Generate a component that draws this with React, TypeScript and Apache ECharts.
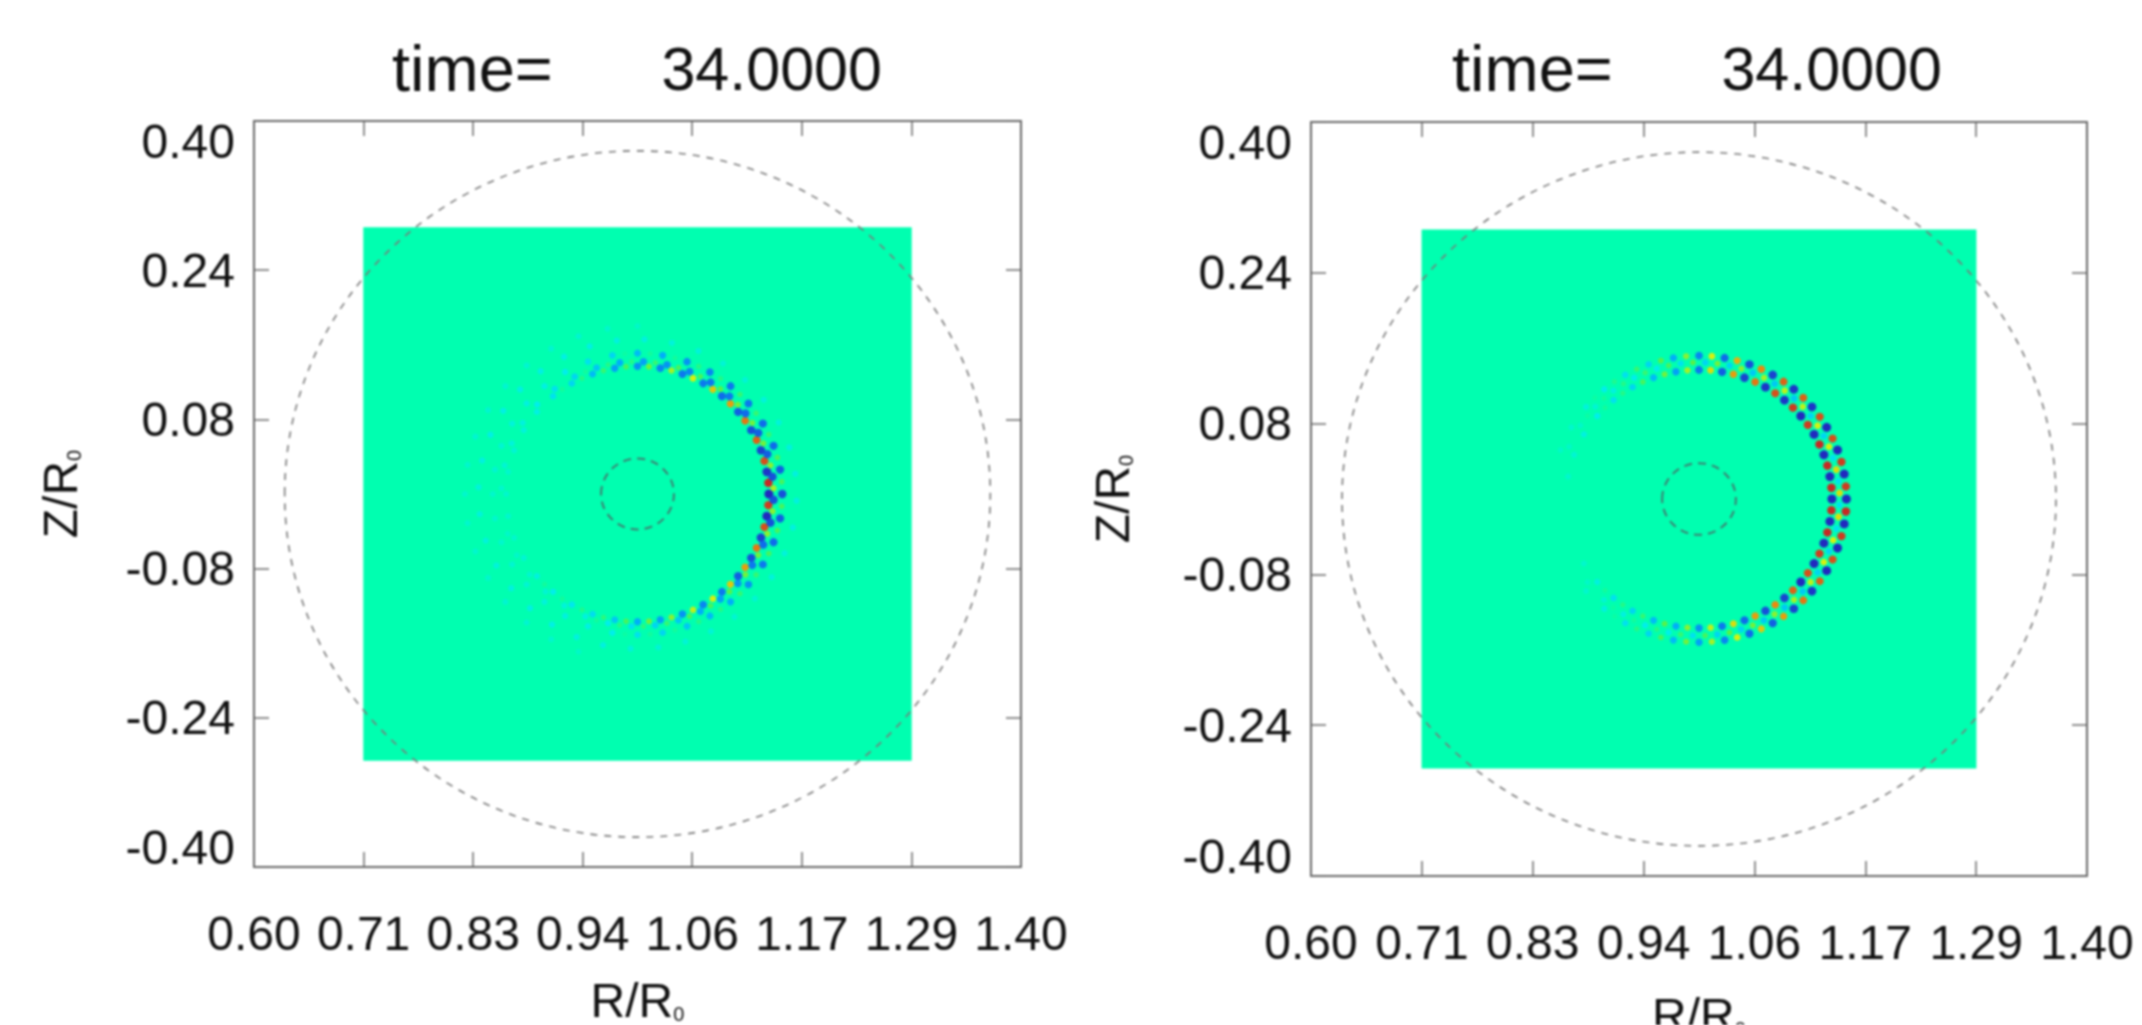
import React, { useEffect, useRef } from "react";
import * as echarts from "echarts";

const FONT = "'Liberation Sans', Arial, sans-serif";
const titleLabel = "time=";
const titleValue = "34.0000";
const xTickValues = [0.6, 0.7143, 0.8286, 0.9429, 1.0571, 1.1714, 1.2857, 1.4];
const yTickValues = [-0.4, -0.24, -0.08, 0.08, 0.24, 0.4];
const fieldBox = [[0.714, -0.286, 1.286, 0.286]];
const fluxCircles = [[1.0, 0, 0.368], [1.0, 0, 0.038]];

// angle (deg) of each sample round the ring
const ringAngles = [
  -175, -170, -165, -160, -155, -150, -145, -140, -135, -130, -125, -120,
  -115, -110, -105, -100, -95, -90, -85, -80, -75, -70, -65, -60,
  -55, -50, -45, -40, -35, -30, -25, -20, -15, -10, -5, 0,
  5, 10, 15, 20, 25, 30, 35, 40, 45, 50, 55, 60,
  65, 70, 75, 80, 85, 90, 95, 100, 105, 110, 115, 120,
  125, 130, 135, 140, 145, 150, 155, 160, 165, 170, 175, 180,
];

const leftA = [
  0, -.12, 0, -.12, 0, -.15, 0, -.2, .05, -.25, .05, -.28,
  .08, -.32, .12, -.4, .2, -.5, .3, -.55, .35, -.6, .45, -.65,
  .5, -.7, .6, -.8, .7, -.85, .8, -.9, .9, -1, .95, -1,
  1, -.95, .9, -.9, .85, -.85, .8, -.8, .7, -.75, .6, -.7,
  .5, -.7, .4, -.65, .3, -.6, .2, -.55, .15, -.45, .1, -.35,
  .05, -.3, 0, -.22, 0, -.18, 0, -.15, 0, -.12, 0, -.12,
];
const leftB = [
  0, 0, -.1, 0, -.1, 0, -.12, 0, -.15, 0, -.18, 0,
  -.2, .05, -.25, .1, -.3, .12, -.35, .15, -.4, .2, -.5, .2,
  -.55, .25, -.6, .3, -.7, .3, -.75, .35, -.85, .35, -.85, .4,
  -.85, .35, -.8, .3, -.8, .3, -.75, .3, -.7, .25, -.7, .2,
  -.65, .2, -.6, .15, -.55, .1, -.5, .1, -.4, .05, -.35, 0,
  -.3, 0, -.25, 0, -.2, 0, -.18, 0, -.15, 0, -.12, 0,
];
const leftC = [
  0, -.12, 0, -.12, 0, -.14, 0, -.15, 0, -.18, 0, -.2,
  0, -.22, 0, -.25, .03, -.3, .05, -.35, .05, -.4, .1, -.45,
  .1, -.5, .15, -.6, .15, -.7, .2, -.75, .2, -.8, .2, -.85,
  .2, -.8, .2, -.75, .15, -.75, .15, -.7, .15, -.7, .1, -.65,
  .1, -.6, .05, -.5, .05, -.45, .03, -.35, 0, -.3, 0, -.25,
  0, -.22, 0, -.2, 0, -.18, 0, -.15, 0, -.14, 0, -.12,
];
const leftD = [
  -.18, 0, -.18, 0, -.18, 0, -.2, 0, -.22, 0, -.22, 0,
  -.2, 0, -.2, 0, -.18, 0, -.16, 0, -.16, 0, -.16, 0,
  -.15, 0, -.15, 0, -.18, 0, -.18, 0, -.2, 0, -.2, 0,
  -.2, 0, -.2, 0, -.18, 0, -.18, 0, -.16, 0, -.16, 0,
  -.18, 0, -.18, 0, -.2, 0, -.2, 0, -.22, 0, -.22, 0,
  -.22, 0, -.22, 0, -.22, 0, -.22, 0, -.2, 0, -.18, 0,
];
const leftE = [
  0, -.12, 0, -.12, 0, -.12, 0, -.14, 0, -.14, 0, -.12,
  0, -.1, 0, 0, 0, 0, 0, 0, 0, 0, 0, 0,
  0, 0, 0, 0, 0, 0, 0, 0, 0, 0, 0, 0,
  0, 0, 0, 0, 0, 0, 0, 0, 0, 0, 0, 0,
  0, 0, 0, 0, 0, -.1, 0, -.12, 0, -.14, 0, -.14,
  0, -.14, 0, -.14, 0, -.14, 0, -.14, 0, -.12, 0, -.12,
];
const rightA = [
  0, 0, 0, 0, 0, -.12, 0, -.2, .05, -.3, .1, -.35,
  .15, -.45, .25, -.5, .35, -.6, .45, -.7, .55, -.75, .7, -.85,
  .75, -.9, .85, -1, .9, -1, .95, -1, 1, -1, 1, -1,
  1, -1, 1, -1, 1, -1, .95, -1, .95, -.95, .9, -.95,
  .8, -.9, .7, -.8, .55, -.7, .4, -.55, .3, -.45, .2, -.35,
  .1, -.3, .05, -.25, 0, -.2, 0, -.15, 0, -.12, 0, 0,
];
const rightB = [
  0, 0, 0, 0, 0, 0, -.1, 0, -.15, .03, -.2, .05,
  -.25, .1, -.25, .15, -.3, .2, -.35, .25, -.35, .3, -.4, .35,
  -.4, .4, -.4, .45, -.35, .5, -.35, .5, -.3, .55, -.3, .55,
  -.3, .55, -.3, .5, -.35, .5, -.35, .45, -.4, .45, -.4, .4,
  -.4, .35, -.35, .3, -.35, .25, -.3, .2, -.25, .15, -.25, .1,
  -.2, .05, -.15, .03, -.1, 0, -.1, 0, 0, 0, 0, 0,
];
const rightC = [
  0, 0, 0, 0, 0, 0, 0, -.12, 0, -.2, .03, -.3,
  .1, -.35, .2, -.45, .3, -.55, .4, -.65, .5, -.75, .6, -.8,
  .7, -.9, .8, -.95, .85, -1, .9, -1, .95, -1, 1, -1,
  .95, -1, .95, -1, .9, -1, .9, -.95, .85, -.95, .85, -.9,
  .75, -.85, .65, -.75, .5, -.65, .35, -.5, .25, -.35, .15, -.3,
  .08, -.25, .03, -.18, 0, -.12, 0, -.1, 0, 0, 0, 0,
];

const leftTracks: [number, number, number[]][] = [
  [0.137, 0, leftA],
  [0.142, 2.5, leftB],
  [0.151, 0, leftC],
  [0.166, 2.5, leftD],
  [0.18, 0, leftE],
];
const rightTracks: [number, number, number[]][] = [
  [0.137, 0, rightA],
  [0.145, 2.5, rightB],
  [0.152, 0, rightC],
];

const COLORMAP = ["#2418c0", "#1060f0", "#00a8ff", "#00eef0", "#00ffb0", "#60f040", "#e8f000", "#ff8000", "#d81818"];
const GREEN = "#00ffb0";
const AXIS = "#6a6a6a";

function ringPoints(tracks: [number, number, number[]][]) {
  const pts: number[][] = [];
  tracks.forEach(([r, off, vals]) => {
    vals.forEach((v, i) => {
      if (v === 0) return;
      const a = ((ringAngles[i] + off) * Math.PI) / 180;
      pts.push([1 + r * Math.cos(a), r * Math.sin(a), v]);
    });
  });
  return pts;
}

function renderBox(_: any, api: any) {
  const a = api.coord([api.value(0), api.value(1)]);
  const b = api.coord([api.value(2), api.value(3)]);
  return {
    type: "rect",
    shape: { x: a[0], y: b[1], width: b[0] - a[0], height: a[1] - b[1] },
    style: { fill: GREEN, stroke: null },
  };
}

function renderCircle(_: any, api: any) {
  const c = api.coord([api.value(0), api.value(1)]);
  const e = api.coord([api.value(0) + api.value(2), api.value(1) + api.value(2)]);
  const inner = api.value(2) < 0.1;
  return {
    type: "ellipse",
    shape: { cx: c[0], cy: c[1], rx: e[0] - c[0], ry: c[1] - e[1] },
    style: {
      fill: "none",
      stroke: inner ? "#3f7f72" : "#7a7a7a",
      lineWidth: inner ? 2 : 1.6,
      lineDash: inner ? [8, 6] : [7, 7],
    },
  };
}

const tickFmt = (v: number) => v.toFixed(2);
const nameStyle = {
  rich: {
    a: { fontSize: 48, color: "#111", fontFamily: FONT },
    b: { fontSize: 20, color: "#111", fontFamily: FONT, verticalAlign: "bottom", padding: [22, 0, 0, 0] },
  },
};

function xAxes(gridIndex: number, nameGap: number) {
  const base = {
    type: "value", gridIndex, min: 0.6, max: 1.4, splitLine: { show: false },
    axisLine: { show: true, onZero: false, lineStyle: { color: AXIS, width: 2 } },
    axisTick: { show: true, inside: true, length: 15, customValues: xTickValues, lineStyle: { color: AXIS, width: 1.5 } },
  };
  return [
    {
      ...base, position: "bottom",
      axisLabel: { show: true, customValues: xTickValues, formatter: tickFmt, margin: 46, fontSize: 48, lineHeight: 40, color: "#111", fontFamily: FONT },
      name: "{a|R/R}{b|0}", nameLocation: "middle", nameGap,
      nameTextStyle: nameStyle,
    },
    { ...base, position: "top", axisLabel: { show: false } },
  ];
}
function yAxes(gridIndex: number, nameGap: number) {
  const base = {
    type: "value", gridIndex, min: -0.4, max: 0.4, splitLine: { show: false },
    axisLine: { show: true, onZero: false, lineStyle: { color: AXIS, width: 2 } },
    axisTick: { show: true, inside: true, length: 15, customValues: yTickValues, lineStyle: { color: AXIS, width: 1.5 } },
  };
  return [
    {
      ...base, position: "left",
      axisLabel: {
        show: true, customValues: yTickValues, formatter: tickFmt, margin: 19, fontSize: 48, lineHeight: 40, color: "#111", fontFamily: FONT,
        verticalAlignMinLabel: "bottom", verticalAlignMaxLabel: "top",
      },
      name: "{a|Z/R}{b|0}", nameLocation: "middle", nameGap, nameRotate: 90,
      nameTextStyle: nameStyle,
    },
    { ...base, position: "right", axisLabel: { show: false } },
  ];
}

function panelSeries(p: number, tracks: [number, number, number[]][]) {
  const axes = { xAxisIndex: p * 2, yAxisIndex: p * 2 };
  return [
    { type: "custom", ...axes, data: fieldBox, renderItem: renderBox, clip: false, z: 1, silent: true },
    {
      type: "scatter", ...axes, data: ringPoints(tracks), z: 2, silent: true,
      symbolSize: (d: number[]) => (d[2] > 0 ? 5 + 3.5 * d[2] : 5.5 + 3.5 * Math.abs(d[2])),
      itemStyle: { opacity: 0.92 },
    },
    { type: "custom", ...axes, data: fluxCircles, renderItem: renderCircle, clip: false, z: 3, silent: true },
  ];
}

function titleFor(left: number) {
  return {
    text: `{t|${titleLabel}}{v|      ${titleValue}}`,
    left, top: 31,
    textStyle: {
      fontWeight: "normal",
      rich: {
        t: { fontSize: 65, fontWeight: "normal", color: "#111", fontFamily: FONT },
        v: { fontSize: 61, fontWeight: "normal", color: "#111", fontFamily: FONT, padding: [0, 0, 0, 7] },
      },
    },
  };
}

export default function App() {
  const ref = useRef<HTMLDivElement>(null);
  useEffect(() => {
    document.body.style.margin = "0";
    const chart = echarts.init(ref.current!, null, { renderer: "svg" });
    chart.setOption({
      animation: false,
      backgroundColor: "#ffffff",
      title: [titleFor(387), titleFor(1447)],
      grid: [
        { left: 254, top: 121, width: 767, height: 746, outerBoundsMode: "none" },
        { left: 1311, top: 122, width: 776, height: 754, outerBoundsMode: "none" },
      ],
      xAxis: [...xAxes(0, 109), ...xAxes(1, 115)],
      yAxis: [...yAxes(0, 170), ...yAxes(1, 175)],
      visualMap: {
        show: false, type: "continuous", min: -1, max: 1, dimension: 2,
        seriesIndex: [1, 4], inRange: { color: COLORMAP },
      },
      series: [...panelSeries(0, leftTracks), ...panelSeries(1, rightTracks)],
    });
    return () => chart.dispose();
  }, []);
  return <div ref={ref} style={{ width: 2142, height: 1025, filter: "blur(0.9px)" }} />;
}
